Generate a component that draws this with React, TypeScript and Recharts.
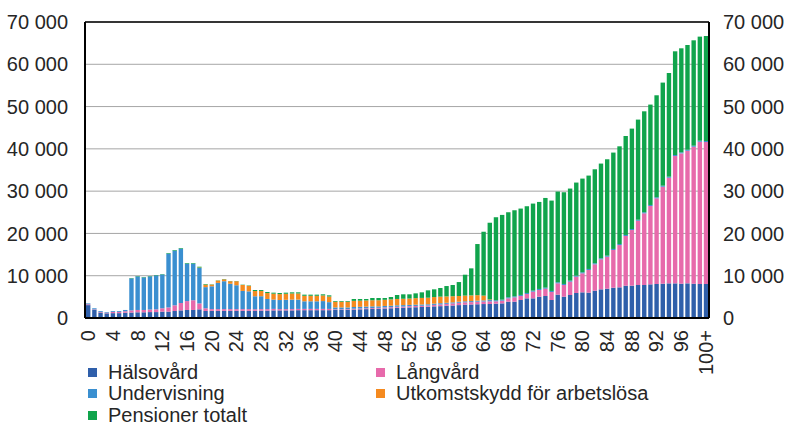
import React from 'react';
import {
  ComposedChart,
  Bar,
  Line,
  XAxis,
  YAxis,
  CartesianGrid,
  Legend,
  ReferenceLine,
} from 'recharts';

const ages: string[] = Array.from({ length: 101 }, (_, i) => (i === 100 ? '100+' : String(i)));

const halsovard = [
  3050, 1950, 1300, 1100, 1150, 1150, 1250, 1300, 1350, 1350,
  1400, 1400, 1500, 1500, 1650, 1800, 1900, 1900, 2050, 1650,
  1700, 1700, 1700, 1700, 1700, 1700, 1700, 1700, 1750, 1750,
  1800, 1800, 1800, 1800, 1850, 1850, 1850, 1850, 1850, 1850,
  1900, 1900, 1950, 2000, 2050, 2100, 2150, 2200, 2250, 2300,
  2400, 2450, 2500, 2550, 2600, 2650, 2750, 2800, 2900, 2950,
  3050, 3150, 3200, 3250, 3300, 3310, 3390, 3460, 3860, 3860,
  4260, 4650, 4650, 5040, 5200, 4260, 5520, 5040, 5440, 5910,
  6070, 5990, 6460, 6780, 6930, 7160, 7250, 7640, 7640, 7800,
  7800, 7960, 8040, 8110, 8190, 8190, 8110, 8190, 8110, 8040,
  8040,
];

const langvard = [
  200, 100, 150, 150, 300, 300, 350, 500, 550, 550,
  600, 650, 800, 1000, 1350, 1750, 2100, 2300, 1400, 650,
  400, 400, 400, 400, 400, 400, 400, 350, 350, 350,
  350, 300, 300, 300, 300, 300, 300, 300, 300, 300,
  150, 150, 150, 200, 200, 200, 200, 200, 250, 250,
  250, 250, 300, 300, 300, 300, 350, 400, 450, 500,
  550, 550, 550, 600, 600, 630, 550, 630, 790, 1020,
  940, 1020, 1580, 1580, 1730, 1890, 2680, 2760, 3150, 3860,
  4490, 5360, 6230, 7090, 7560, 8920, 10000, 11750, 13160, 15200,
  16950, 18520, 20260, 22930, 24980, 30110, 30820, 31360, 32390, 33640,
  33570,
];

const undervisning = [
  200, 250, 200, 150, 200, 200, 300, 7560, 7930, 7700,
  7830, 8020, 8000, 12720, 12930, 12850, 8850, 8650, 8380, 5000,
  5400, 6200, 6600, 6000, 5650, 4300, 4200, 3100, 3050, 2400,
  2200, 2150, 2200, 2250, 2200, 1800, 1800, 1800, 1850, 1600,
  450, 450, 400, 400, 400, 400, 400, 350, 350, 350,
  350, 350, 300, 300, 300, 300, 300, 300, 250, 250,
  250, 250, 250, 250, 250, 300, 250, 250, 250, 250,
  250, 250, 250, 250, 250, 250, 250, 250, 250, 250,
  250, 250, 250, 250, 250, 250, 250, 250, 250, 250,
  250, 250, 250, 250, 250, 250, 250, 250, 250, 250,
  250,
];

const utkomstskydd = [
  0, 0, 0, 0, 0, 0, 0, 0, 0, 0,
  0, 0, 0, 0, 0, 0, 0, 0, 100, 600,
  400, 550, 450, 600, 950, 1400, 1300, 1250, 1250, 1400,
  1400, 1400, 1430, 1450, 1450, 1300, 1300, 1300, 1330, 1330,
  1350, 1350, 1350, 1450, 1450, 1450, 1450, 1450, 1450, 1500,
  1500, 1500, 1500, 1550, 1550, 1550, 1550, 1550, 1500, 1450,
  1350, 1350, 1350, 1300, 1150, 150, 0, 0, 0, 0,
  0, 0, 0, 0, 0, 0, 0, 0, 0, 0,
  0, 0, 0, 0, 0, 0, 0, 0, 0, 0,
  0, 0, 0, 0, 0, 0, 0, 0, 0, 0,
  0,
];

const pensioner = [
  0, 0, 0, 0, 0, 0, 0, 100, 100, 100,
  100, 100, 100, 150, 150, 150, 150, 150, 200, 140,
  70, 60, 70, 50, 50, 80, 100, 220, 220, 250,
  240, 260, 260, 270, 270, 270, 270, 270, 270, 280,
  170, 170, 170, 440, 390, 340, 530, 530, 430, 560,
  940, 1050, 1000, 1130, 1320, 1740, 1830, 2040, 2460, 2650,
  3300, 4940, 6390, 12090, 15100, 18140, 19640, 20040, 20110, 20350,
  20430, 20510, 20580, 20580, 21210, 21370, 21450, 21690, 21770, 22010,
  22160, 22080, 22230, 22400, 22800, 22790, 23100, 23400, 23740, 23670,
  23880, 23740, 24120, 24380, 24520, 24520, 24600, 24760, 24920, 24610,
  24830,
];

const yTicks = [0, 10000, 20000, 30000, 40000, 50000, 60000, 70000];

const series = [
  { key: 'halsovard', name: 'Hälsovård', color: '#2f5faa' },
  { key: 'langvard', name: 'Långvård', color: '#e76aab' },
  { key: 'undervisning', name: 'Undervisning', color: '#3a8fd0' },
  { key: 'utkomstskydd', name: 'Utkomstskydd för arbetslösa', color: '#f58a1f' },
  { key: 'pensioner', name: 'Pensioner totalt', color: '#10a44c' },
];

const data = ages.map((age, i) => ({
  age,
  halsovard: halsovard[i],
  langvard: langvard[i],
  undervisning: undervisning[i],
  utkomstskydd: utkomstskydd[i],
  pensioner: pensioner[i],
}));

const FONT = '"Liberation Sans", Arial, sans-serif';
const TEXT = '#262626';

const fmt = (v: number) => String(v).replace(/\B(?=(\d{3})+(?!\d))/g, ' ');

function AgeTick({ x, y, payload }: any) {
  return (
    <text
      transform={`translate(${x + 7},${y + 4}) rotate(-90)`}
      textAnchor="end"
      fontFamily={FONT}
      fontSize={20}
      fill={TEXT}
    >
      {payload.value}
    </text>
  );
}

function LegendBox() {
  const cols = [88, 376];
  return (
    <div style={{ position: 'relative', width: 788, height: 65, fontFamily: FONT, fontSize: 20, color: TEXT }}>
      {series.map((s, i) => {
        const left = cols[i % 2];
        const top = 1 + Math.floor(i / 2) * 21.5;
        return (
          <div key={s.key} style={{ position: 'absolute', left, top, height: 22, display: 'flex', alignItems: 'center', whiteSpace: 'nowrap' }}>
            <span style={{ display: 'inline-block', width: 9, height: 9, background: s.color, marginRight: 11 }} />
            <span>{s.name}</span>
          </div>
        );
      })}
    </div>
  );
}

export default function App() {
  return (
    <div style={{ position: 'absolute', left: 0, top: 0 }}>
      <ComposedChart
        width={788}
        height={425}
        data={data}
        margin={{ top: 22, right: 0, left: 0, bottom: 0 }}
        barSize={4.4}
      >
        <CartesianGrid yAxisId="left" vertical={false} stroke="#a6a6a6" />
        <XAxis
          dataKey="age"
          interval={3}
          height={42}
          tickLine={false}
          axisLine={{ stroke: '#000', strokeWidth: 2 }}
          tick={<AgeTick />}
        />
        <YAxis
          yAxisId="left"
          width={85}
          domain={[0, 70000]}
          ticks={yTicks}
          tickFormatter={fmt}
          tickLine={false}
          tickSize={0}
          tickMargin={17}
          axisLine={{ stroke: '#000', strokeWidth: 2 }}
          tick={{ fontFamily: FONT, fontSize: 20, fill: TEXT }}
        />
        <YAxis
          yAxisId="right"
          orientation="right"
          width={79}
          domain={[0, 70000]}
          ticks={yTicks}
          tickFormatter={fmt}
          tickLine={false}
          tickSize={0}
          tickMargin={14}
          axisLine={{ stroke: '#000', strokeWidth: 2 }}
          tick={{ fontFamily: FONT, fontSize: 20, fill: TEXT, textAnchor: 'start' }}
        />
        <ReferenceLine yAxisId="left" y={70000} stroke="#000" strokeWidth={1.5} />
        <Legend verticalAlign="bottom" height={65} content={<LegendBox />} />
        {series.map((s) => (
          <Bar
            key={s.key}
            yAxisId="left"
            dataKey={s.key}
            name={s.name}
            stackId="a"
            fill={s.color}
            isAnimationActive={false}
          />
        ))}
        <Line
          yAxisId="right"
          dataKey="halsovard"
          stroke="none"
          dot={false}
          activeDot={false}
          legendType="none"
          isAnimationActive={false}
        />
      </ComposedChart>
    </div>
  );
}
